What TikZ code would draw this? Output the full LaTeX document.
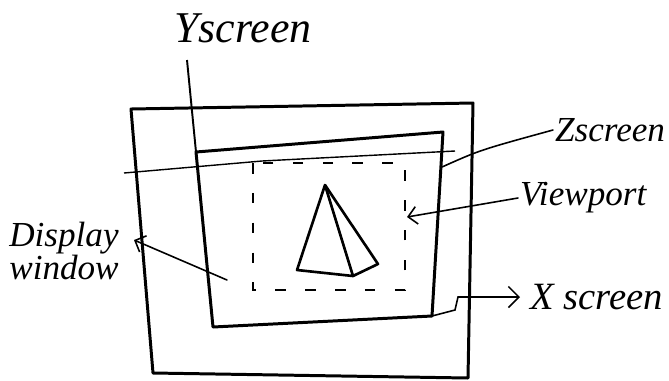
\documentclass[tikz,border=0pt]{standalone}
\usepackage{fontspec}
\setmainfont{Liberation Serif}
\usetikzlibrary{arrows.meta,positioning,calc}

\begin{document}
\begin{tikzpicture}[
    x=0.02cm, y=-0.02cm,
    frame/.style={line width=1.7pt, line join=round},
    axis/.style={line width=0.8pt},
    lead/.style={line width=0.9pt, line cap=round},
    vport/.style={line width=1.2pt, dash pattern=on 6pt off 11pt},
    lbl/.style={inner sep=1pt}
]
    \useasboundingbox (0,0) rectangle (669,380);

    % Screen
    \draw[frame] (131,109) -- (473,103) -- (468,378) -- (153,373) -- cycle;

    % Display window
    \coordinate (dwTL) at (196,152);
    \coordinate (dwTR) at (443,132);
    \coordinate (dwBR) at (432,316);
    \coordinate (dwBL) at (213,327);
    \draw[frame] (dwTL) -- (dwTR) -- (dwBR) -- (dwBL) -- cycle;

    % Axes
    \node[lbl, font=\fontsize{25}{27}\selectfont\itshape] (ylab) at (243,28) {Yscreen};
    \coordinate (ytop) at (187,60);
    \draw[line width=1.1pt] (ytop) -- (dwTL);
    \coordinate (zleft) at (124,173);
    \coordinate (zright) at (455,151);
    \draw[axis] (zleft) -- (262,161) -- (zright);

    % Viewport
    \draw[vport] (253,163) rectangle (405,290);

    % Object
    \coordinate (apex) at (325,185);
    \coordinate (bl) at (297,270);
    \coordinate (bm) at (353,276);
    \coordinate (br) at (378,264);
    \draw[frame, line width=1.5pt] (bl) -- (apex) -- (br) -- (bm) -- cycle;
    \draw[frame, line width=1.5pt] (apex) -- (bm);

    % Labels
    \node[lbl, anchor=west, font=\fontsize{20}{22}\selectfont\itshape] (zlab) at (553,130) {Zscreen};
    \node[lbl, anchor=west, font=\fontsize{20}{22}\selectfont\itshape] (vplab) at (518,198) {Viewport};
    \node[lbl, align=center, font=\fontsize{20}{18}\selectfont\itshape] (dwlab) at (64,251) {Display\\window};
    \node[lbl, anchor=west, font=\fontsize{22}{24}\selectfont\itshape] (xlab) at (528,297) {X screen};

    % Leaders
    \coordinate (zfoot) at (442,167);
    \draw[lead] (zfoot) .. controls (480,150) .. (zlab.west);
    \coordinate (vpfoot) at (407,217);
    \draw[lead, -{Straight Barb[length=5pt]}] (vplab.west) -- (vpfoot);
    \coordinate (dwfoot) at (227,280);
    \coordinate (dwtip) at (134,240);
    \draw[lead, -{Straight Barb[length=5pt]}] (dwfoot) -- (dwtip);
    \coordinate (xbend) at (458,297);
    \draw[lead, -{Straight Barb[length=6pt]}] (dwBR) -- (455,310) -- (xbend) -- ($(xlab.west)+(-8,0)$);
\end{tikzpicture}
\end{document}
